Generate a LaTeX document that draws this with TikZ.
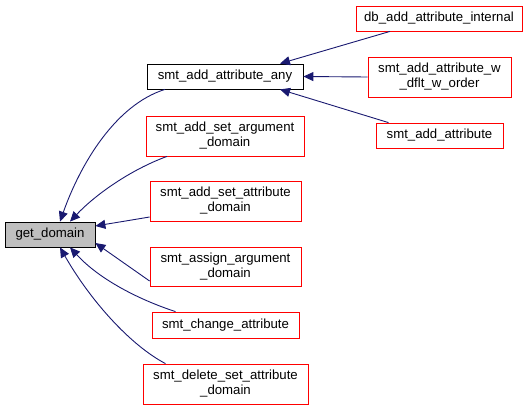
\documentclass[tikz,border=0pt]{standalone}
\usepackage{fontspec}
\setmainfont{Liberation Sans}
\usetikzlibrary{arrows.meta}
\definecolor{edgeblue}{HTML}{191970}
\definecolor{boxred}{HTML}{FF0000}
\tikzset{
  fn/.style={draw=boxred, line width=0.8pt, inner sep=0pt, align=center,
    font=\fontsize{13.2}{15}\selectfont},
  current/.style={fn, draw=black, fill=black!25},
  edge/.style={{Triangle[length=10pt,width=9pt]}-, draw=edgeblue, line width=0.9pt}
}
\begin{document}
\begin{tikzpicture}[x=1pt, y=-1pt]

  \useasboundingbox (0,0) rectangle (528,410);

  % --- function boxes ---
  \node[current, minimum width=90pt, minimum height=25pt] (get) at (50,234.5) {get\_domain};
  \node[fn, draw=black, minimum width=156pt, minimum height=25pt] (any) at (225,76.5) {smt\_add\_attribute\_any};

  \node[fn, minimum width=166pt, minimum height=25pt] (db) at (439,18.5) {db\_add\_attribute\_internal};
  \node[fn, minimum width=143pt, minimum height=40pt] (wdflt) at (439.5,77) {smt\_add\_attribute\_w\\\_dflt\_w\_order};
  \node[fn, minimum width=127pt, minimum height=25pt] (attr) at (439.5,135.5) {smt\_add\_attribute};

  \node[fn, minimum width=158pt, minimum height=40pt] (setarg) at (225,136) {smt\_add\_set\_argument\\\_domain};
  \node[fn, minimum width=151pt, minimum height=40pt] (setattr) at (225.5,201) {smt\_add\_set\_attribute\\\_domain};
  \node[fn, minimum width=151pt, minimum height=39pt] (assign) at (225.5,266.5) {smt\_assign\_argument\\\_domain};
  \node[fn, minimum width=147pt, minimum height=26pt] (change) at (225.5,325) {smt\_change\_attribute};
  \node[fn, minimum width=165pt, minimum height=40pt] (delete) at (225.5,384) {smt\_delete\_set\_attribute\\\_domain};

  % --- callers of get_domain ---
  \draw[edge] ([xshift=10pt]get.north) .. controls (80,165) and (115,105) .. ([xshift=-60pt]any.south);
  \draw[edge] ([xshift=20pt]get.north) .. controls (95,195) and (130,170) .. ([xshift=-58pt]setarg.south);
  \draw[edge] ([yshift=8.5pt]get.east) -- ([yshift=-16pt]setattr.west);
  \draw[edge] ([yshift=-8.5pt]get.east) -- ([yshift=-14.5pt]assign.west);
  \draw[edge] ([xshift=20pt]get.south) .. controls (100,280) and (140,300) .. ([xshift=-50pt]change.north);
  \draw[edge] ([xshift=10pt]get.south) .. controls (90,300) and (130,345) .. ([xshift=-60pt]delete.north);

  % --- callers of smt_add_attribute_any ---
  \draw[edge] ([xshift=55pt]any.north) -- ([xshift=-49pt]db.south);
  \draw[edge] (any.east) -- (wdflt.west);
  \draw[edge] ([xshift=55pt]any.south) -- ([xshift=-51pt]attr.north);

\end{tikzpicture}
\end{document}
